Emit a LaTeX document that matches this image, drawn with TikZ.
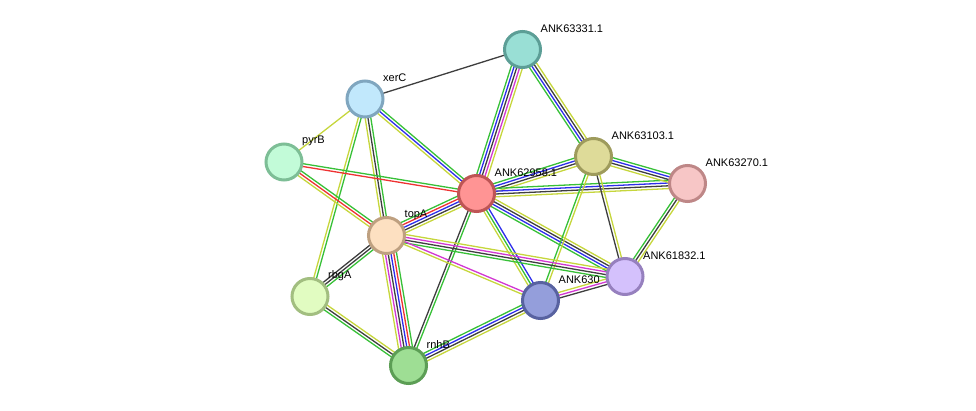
\documentclass[tikz,border=0pt]{standalone}
\usepackage{fontspec}
\setmainfont{Liberation Sans}
\usetikzlibrary{calc}
\pgfdeclarelayer{edges}
\pgfdeclarelayer{labels}
\pgfsetlayers{edges,labels,main}

\definecolor{cG}{RGB}{55,192,55}
\definecolor{cB}{RGB}{45,45,235}
\definecolor{cK}{RGB}{62,62,62}
\definecolor{cM}{RGB}{210,55,210}
\definecolor{cY}{RGB}{198,214,60}
\definecolor{cR}{RGB}{238,50,50}

\definecolor{f3331}{RGB}{153,223,213}\definecolor{d3331}{RGB}{92,158,150}
\definecolor{fxerC}{RGB}{193,232,252}\definecolor{dxerC}{RGB}{128,166,191}
\definecolor{fpyrB}{RGB}{194,251,216}\definecolor{dpyrB}{RGB}{125,190,150}
\definecolor{f2958}{RGB}{255,148,148}\definecolor{d2958}{RGB}{190,85,85}
\definecolor{f3103}{RGB}{222,219,153}\definecolor{d3103}{RGB}{158,155,92}
\definecolor{f3270}{RGB}{247,198,198}\definecolor{d3270}{RGB}{190,135,135}
\definecolor{ftopA}{RGB}{253,224,193}\definecolor{dtopA}{RGB}{190,160,128}
\definecolor{frbgA}{RGB}{225,252,193}\definecolor{drbgA}{RGB}{162,190,128}
\definecolor{f630}{RGB}{148,158,219}\definecolor{d630}{RGB}{88,98,160}
\definecolor{f1832}{RGB}{212,193,252}\definecolor{d1832}{RGB}{150,128,190}
\definecolor{frnhB}{RGB}{158,222,148}\definecolor{drnhB}{RGB}{92,158,85}

\tikzset{
  prot/.style={circle, minimum size=36pt, inner sep=0pt, line width=3pt},
  lbl/.style={anchor=west, inner sep=0pt, font=\fontsize{11}{13}\selectfont, text=black},
  edgeline/.style={line width=1.3pt}
}

\newcommand\ppedge[3]{%
  \foreach \col [count=\i] in {#3} {\xdef\ncols{\i}}%
  \foreach \col [count=\i] in {#3} {%
    \pgfmathsetmacro\off{(\i-(\ncols+1)/2)*2.8}%
    \draw[edgeline, color=\col] ($(#1)!\off pt!90:(#2)$) -- ($(#2)!\off pt!-90:(#1)$);
  }}

\newcommand\prot[6]{%
  \node[prot, fill=#4, draw=#5] (#1) at (#2,-#3) {};
  \begin{pgfonlayer}{labels}
    \node[lbl] (#1-l) at ($(#1)+(18,21)$) {#6};
  \end{pgfonlayer}}

\begin{document}
\begin{tikzpicture}[x=1pt,y=1pt]
\useasboundingbox (0,0) rectangle (976,-411);

\prot{a3331}{522.5}{49.5}{f3331}{d3331}{ANK63331.1}
\prot{xerC}{365}{99}{fxerC}{dxerC}{xerC}
\prot{pyrB}{284}{162}{fpyrB}{dpyrB}{pyrB}
\prot{a2958}{476.5}{193.5}{f2958}{d2958}{ANK62958.1}
\prot{a3103}{593.5}{156.5}{f3103}{d3103}{ANK63103.1}
\prot{a3270}{687.5}{183.5}{f3270}{d3270}{ANK63270.1}
\prot{topA}{386.5}{235.5}{ftopA}{dtopA}{topA}
\prot{rbgA}{310}{296.5}{frbgA}{drbgA}{rbgA}
\prot{a630}{540.5}{300.5}{f630}{d630}{ANK630}
\prot{a1832}{625}{276.5}{f1832}{d1832}{ANK61832.1}
\prot{rnhB}{408.5}{365.5}{frnhB}{drnhB}{rnhB}

\begin{pgfonlayer}{edges}
\ppedge{xerC}{a3331}{cK}
\ppedge{xerC}{pyrB}{cY}
\ppedge{xerC}{a2958}{cY,cB,cG}
\ppedge{xerC}{topA}{cY,cK,cG}
\ppedge{xerC}{rbgA}{cY,cG}
\ppedge{pyrB}{a2958}{cR,cG}
\ppedge{pyrB}{topA}{cY,cR,cG}
\ppedge{a3331}{a2958}{cG,cB,cK,cM,cY}
\ppedge{a3331}{a3103}{cG,cB,cK,cY}
\ppedge{a2958}{a3103}{cY,cK,cB,cG}
\ppedge{a2958}{a3270}{cY,cK,cB,cG}
\ppedge{a3103}{a3270}{cY,cK,cB,cG}
\ppedge{topA}{a2958}{cY,cK,cB,cR,cG}
\ppedge{a2958}{rnhB}{cK,cG}
\ppedge{a2958}{a630}{cY,cG,cB}
\ppedge{a2958}{a1832}{cG,cB,cK,cY}
\ppedge{a3103}{a1832}{cK,cY}
\ppedge{a3103}{a630}{cG,cY}
\ppedge{a3270}{a1832}{cG,cK,cY}
\ppedge{topA}{rbgA}{cK,cK,cG}
\ppedge{topA}{rnhB}{cY,cM,cK,cB,cR,cG}
\ppedge{topA}{a1832}{cG,cK,cM,cY}
\ppedge{topA}{a630}{cY,cM}
\ppedge{rbgA}{rnhB}{cG,cK,cY}
\ppedge{rnhB}{a630}{cY,cK,cB,cG}
\ppedge{a630}{a1832}{cK,cM,cY}
\end{pgfonlayer}
\end{tikzpicture}
\end{document}
